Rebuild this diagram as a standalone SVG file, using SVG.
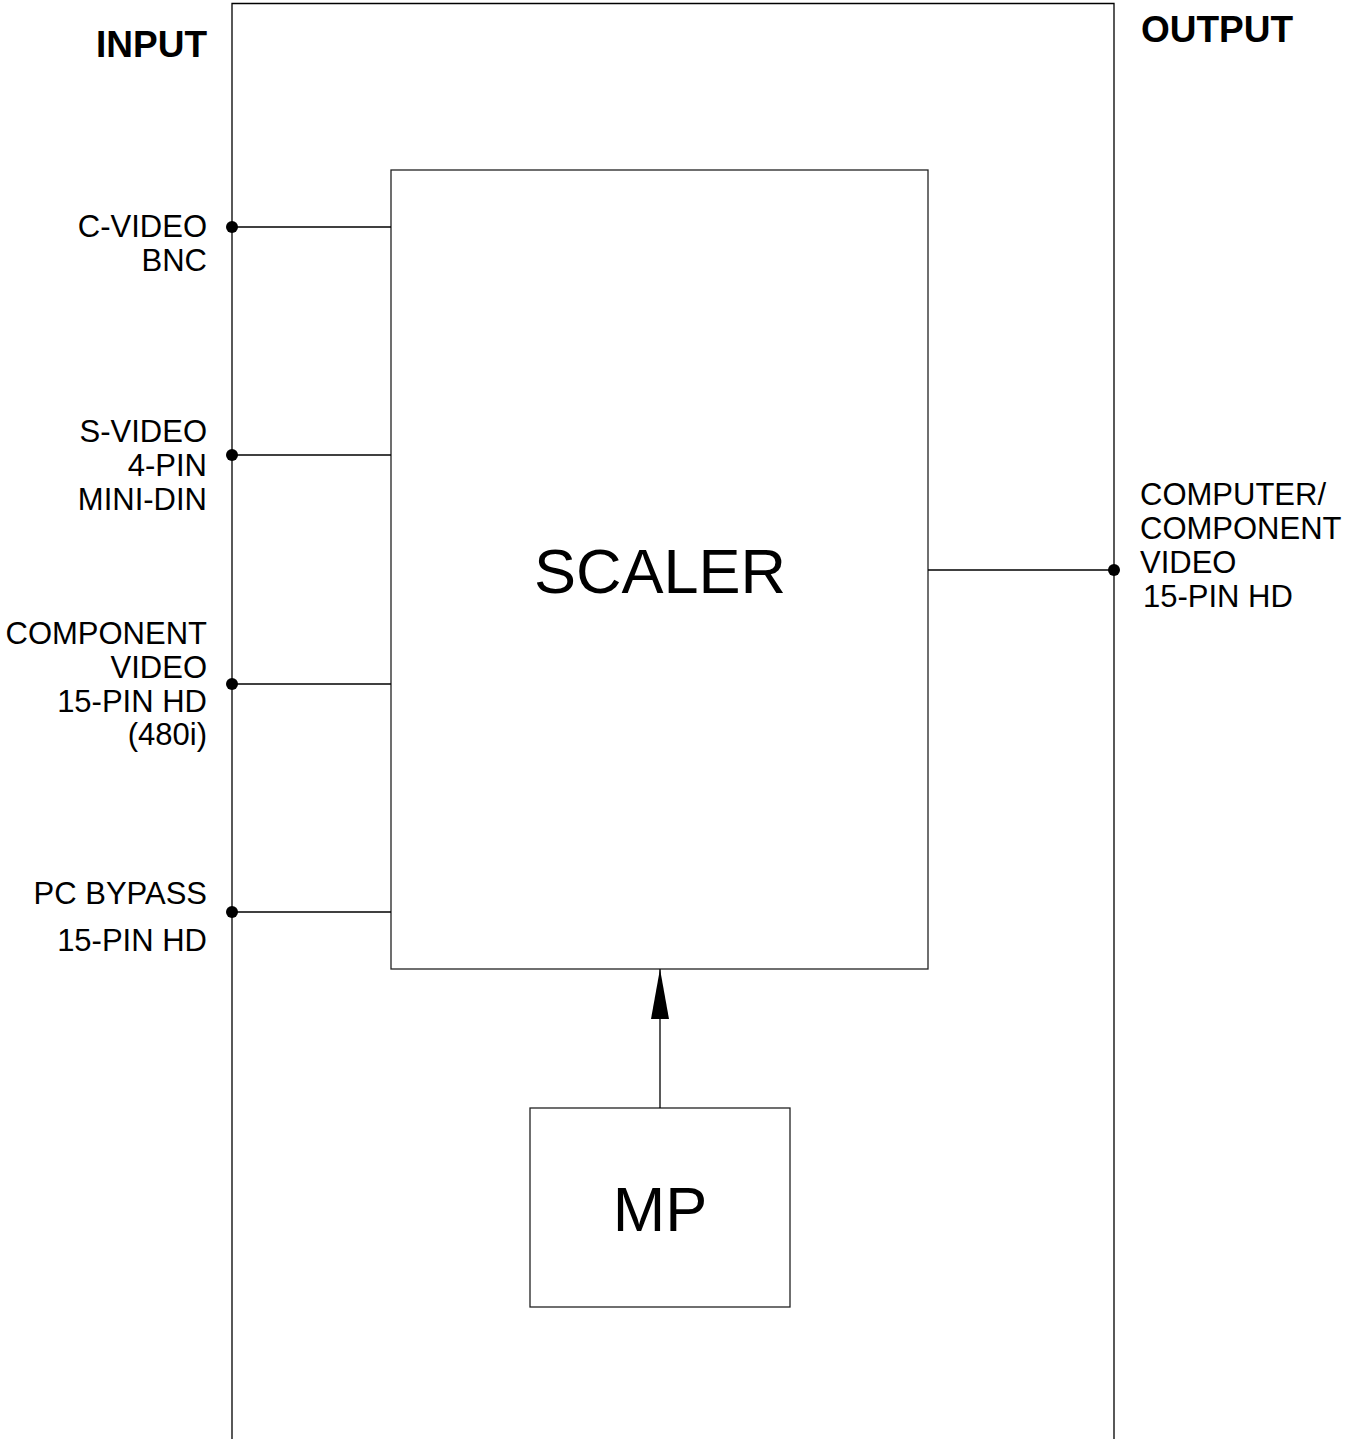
<svg xmlns="http://www.w3.org/2000/svg" width="1348" height="1439" viewBox="0 0 1348 1439">
<style>
.ln{stroke:#000;stroke-width:1.3;fill:none}
.bx{stroke:#222;stroke-width:1.3;fill:#fff}
.t{font-family:"Liberation Sans",Arial,sans-serif;font-size:31px;fill:#000}
.r{text-anchor:end}
.h{font-family:"Liberation Sans",Arial,sans-serif;font-size:37px;font-weight:bold;fill:#000}
.big{font-family:"Liberation Sans",Arial,sans-serif;font-size:63px;fill:#000;text-anchor:middle}
.dot{fill:#000}
</style>
<defs>
<marker id="ah" viewBox="0 0 50 18" refX="50" refY="9" markerWidth="50" markerHeight="18" markerUnits="userSpaceOnUse" orient="auto">
<path d="M50 9 L0 0 L0 18 Z" fill="#000"/>
</marker>
</defs>
<g id="frame">
<polyline class="ln" points="232,1439 232,3.5 1114,3.5 1114,1439"/>
</g>
<g id="labels">
<text class="h r" x="207" y="57">INPUT</text>
<text class="h" x="1141" y="42">OUTPUT</text>
</g>
<g id="scaler">
<rect class="bx" x="391" y="170" width="537" height="799"/>
<text class="big" x="660" y="593">SCALER</text>
</g>
<g id="mp">
<rect class="bx" x="530" y="1108" width="260" height="199"/>
<text class="big" x="660" y="1231">MP</text>
</g>
<g id="connectors">
<line class="ln" x1="232" y1="227" x2="391" y2="227"/>
<line class="ln" x1="232" y1="455" x2="391" y2="455"/>
<line class="ln" x1="232" y1="684" x2="391" y2="684"/>
<line class="ln" x1="232" y1="912" x2="391" y2="912"/>
<line class="ln" x1="928" y1="570" x2="1114" y2="570"/>
<line class="ln" x1="660" y1="1108" x2="660" y2="969" marker-end="url(#ah)"/>
<circle class="dot" cx="232" cy="227" r="6"/>
<circle class="dot" cx="232" cy="455" r="6"/>
<circle class="dot" cx="232" cy="684" r="6"/>
<circle class="dot" cx="232" cy="912" r="6"/>
<circle class="dot" cx="1114" cy="570" r="6"/>
</g>
<g id="in-cvideo">
<text class="t r" x="207" y="237">C-VIDEO</text>
<text class="t r" x="207" y="271">BNC</text>
</g>
<g id="in-svideo">
<text class="t r" x="207" y="442">S-VIDEO</text>
<text class="t r" x="207" y="476">4-PIN</text>
<text class="t r" x="207" y="510">MINI-DIN</text>
</g>
<g id="in-component">
<text class="t r" x="207" y="644">COMPONENT</text>
<text class="t r" x="207" y="678">VIDEO</text>
<text class="t r" x="207" y="712">15-PIN HD</text>
<text class="t r" x="207" y="745">(480i)</text>
</g>
<g id="in-pc">
<text class="t r" x="207" y="904">PC BYPASS</text>
<text class="t r" x="207" y="951">15-PIN HD</text>
</g>
<g id="out">
<text class="t" x="1140" y="505">COMPUTER/</text>
<text class="t" x="1140" y="539">COMPONENT</text>
<text class="t" x="1140" y="573">VIDEO</text>
<text class="t" x="1143" y="607">15-PIN HD</text>
</g>
</svg>
